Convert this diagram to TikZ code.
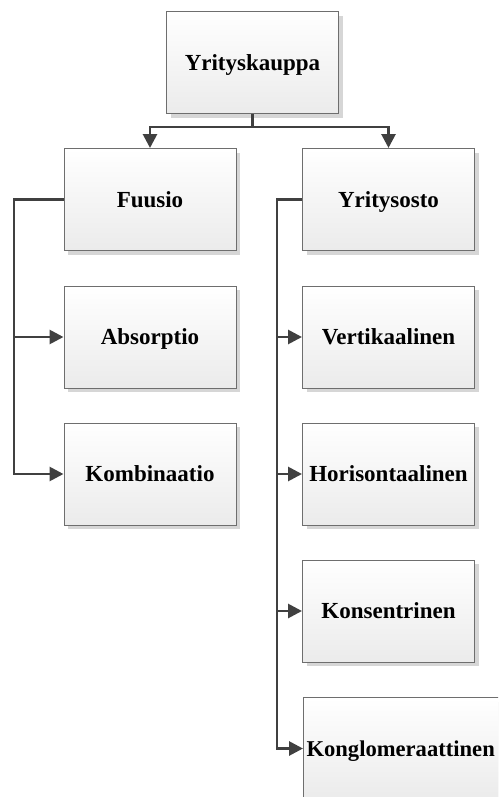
\documentclass[tikz,border=0pt]{standalone}
\usepackage{fontspec}
\setmainfont{Liberation Serif}
\usetikzlibrary{arrows.meta,shadows}
\definecolor{conncol}{HTML}{404040}
\definecolor{bordercol}{HTML}{6E6E6E}
\definecolor{shadowcol}{HTML}{D6D6D6}
\definecolor{botcol}{HTML}{EBEBEB}
\tikzset{
  box/.style={draw=bordercol, line width=1pt, top color=white, bottom color=botcol,
    minimum width=172pt, minimum height=102pt, inner sep=0pt,
    text height=15pt, text depth=0pt,
    font=\fontsize{23}{27}\selectfont\bfseries,
    drop shadow={shadow xshift=4pt, shadow yshift=-4pt, fill=shadowcol, opacity=1}},
  conn/.style={draw=conncol, line width=2.8pt},
  arr/.style={conn, -{Triangle[length=14pt,width=14pt]}}
}
\begin{document}
\begin{tikzpicture}[x=1pt,y=-1pt]
\useasboundingbox (0,0) rectangle (498,797);
\clip (0,0) rectangle (498,797);
\node[box] (top) at (252.5,63) {Yrityskauppa};
\node[box] (fuusio) at (150,199.5) {Fuusio};
\node[box] (abs) at (150,337) {Absorptio};
\node[box] (komb) at (150,474) {Kombinaatio};
\node[box] (yos) at (388.5,199.5) {Yritysosto};
\node[box] (vert) at (388.5,337) {Vertikaalinen};
\node[box] (hor) at (388.5,474) {Horisontaalinen};
\node[box] (kons) at (388.5,611) {Konsentrinen};
\node[box, anchor=west, text width=206pt, align=left, inner xsep=3pt,
  font=\fontsize{22.6}{27}\selectfont\bfseries] (konglo) at (303,748.5) {Konglomeraattinen};
\coordinate (bus) at (252.5,127);
\coordinate (lx) at (14,0);
\coordinate (rx) at (277,0);
\draw[conn] (top.south) -- (bus);
\draw[arr] (bus) -| (fuusio.north);
\draw[arr] (bus) -| (yos.north);
\draw[arr] (fuusio.west) -| (komb.west -| lx) -- (komb.west);
\draw[arr] (abs.west -| lx) -- (abs.west);
\draw[arr] (yos.west) -| (konglo.west -| rx) -- (konglo.west);
\draw[arr] (vert.west -| rx) -- (vert.west);
\draw[arr] (hor.west -| rx) -- (hor.west);
\draw[arr] (kons.west -| rx) -- (kons.west);
\end{tikzpicture}
\end{document}
